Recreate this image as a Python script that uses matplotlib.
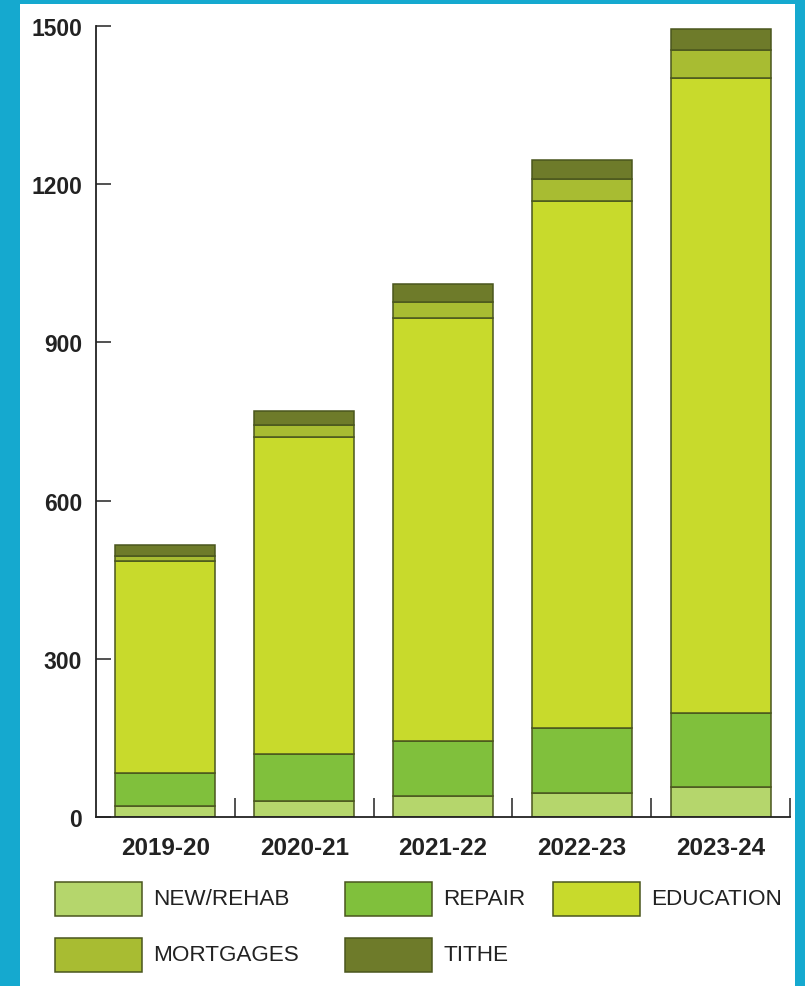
import numpy as np
import matplotlib
matplotlib.use("Agg")
import matplotlib.pyplot as plt
from matplotlib.patches import Rectangle

# data
years = ["2019-20", "2020-21", "2021-22", "2022-23", "2023-24"]
new_rehab = [20, 30, 39, 45, 56]
repair = [64, 90, 106, 123, 141]
education = [402, 601, 802, 1001, 1205]
mortgages = [9, 22, 30, 41, 52]
tithe = [21, 27, 33, 36, 40]

series_names = ["NEW/REHAB", "REPAIR", "EDUCATION", "MORTGAGES", "TITHE"]
series_vals = [new_rehab, repair, education, mortgages, tithe]
colors = ["#b5d66c", "#80c03c", "#c8da2c", "#a8bc32", "#6e7b2a"]
edge = "#4a561e"
ink = "#222222"

plt.rcParams['font.family'] = ['Liberation Sans', 'DejaVu Sans']

fig = plt.figure(figsize=(8.05, 9.87), dpi=100)
fig.patch.set_facecolor("#15a9cf")
# white panel inside the cyan frame
fig.add_artist(Rectangle((20/805, 0), 775/805, 982/987, transform=fig.transFigure,
                         facecolor="white", edgecolor="none", zorder=0))

ax = fig.add_axes([96/805, 169/987, 694/805, 791/987])
ax.set_facecolor("none")

x = np.arange(len(years))
bottom = np.zeros(len(years))
for name, vals, c in zip(series_names, series_vals, colors):
    ax.bar(x, vals, width=0.72, bottom=bottom, color=c, edgecolor=edge, linewidth=1.1,
           zorder=2)
    bottom += np.array(vals)

ax.set_xlim(-0.5, 4.5)
ax.set_ylim(0, 1500)
ax.set_yticks([0, 300, 600, 900, 1200, 1500])
ax.set_xticks(x, years)
ax.set_xticks(np.arange(0.5, 5, 1.0), minor=True)

ax.spines['top'].set_visible(False)
ax.spines['right'].set_visible(False)
for s in ['left', 'bottom']:
    ax.spines[s].set_linewidth(1.3)
    ax.spines[s].set_color(ink)

ax.tick_params(axis='y', direction='in', length=11, width=1.1, pad=10,
               labelsize=16.5, colors=ink)
ax.tick_params(axis='x', which='major', length=0, pad=14, labelsize=17.5, colors=ink)
ax.tick_params(axis='x', which='minor', direction='in', length=14, width=1.1,
               color=ink)
for lab in ax.get_yticklabels() + ax.get_xticklabels():
    lab.set_fontweight('bold')

# legend drawn by hand, row-wise like the original
legend_pos = [(55, 883), (345, 883), (553, 883), (55, 939), (345, 939)]
for (px, py), name, c in zip(legend_pos, series_names, colors):
    fig.add_artist(Rectangle((px/805, (987 - py - 34)/987), 87/805, 34/987,
                             transform=fig.transFigure, facecolor=c,
                             edgecolor=edge, linewidth=1.1))
    fig.text((px + 98)/805, (987 - py - 17)/987, name, fontsize=16.2,
             color=ink, va='center', ha='left')

plt.savefig("out.png", dpi=100, facecolor=fig.get_facecolor())
